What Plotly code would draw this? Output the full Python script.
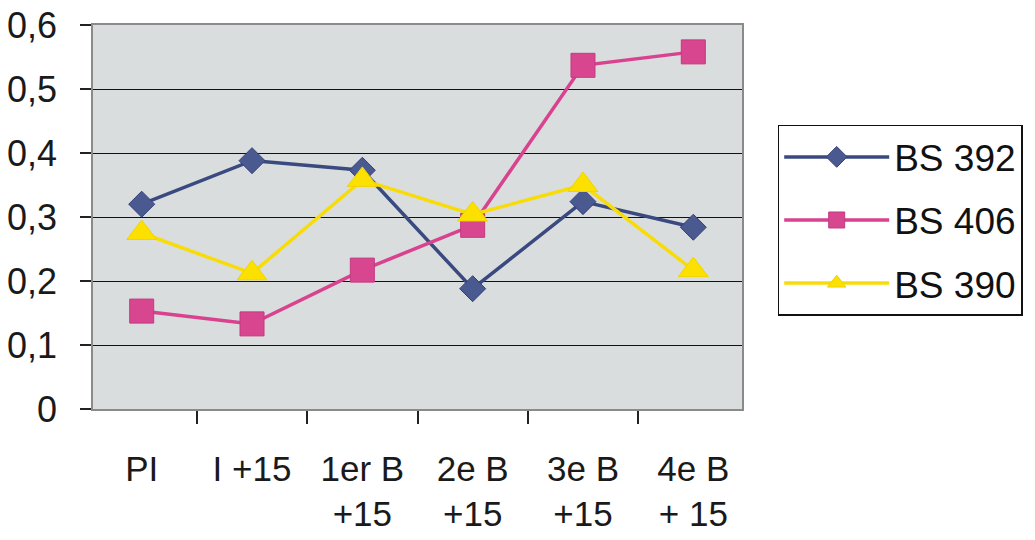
import plotly.graph_objects as go

categories = ["PI", "I +15", "1er B<br>+15", "2e B<br>+15", "3e B<br>+15", "4e B<br>+ 15"]
bs392 = [0.320, 0.388, 0.373, 0.188, 0.324, 0.284]
bs406 = [0.153, 0.133, 0.217, 0.287, 0.537, 0.558]
bs390 = [0.275, 0.212, 0.358, 0.304, 0.350, 0.217]
y_ticks = [0, 0.1, 0.2, 0.3, 0.4, 0.5, 0.6]

FONT = "Liberation Sans, Arial, sans-serif"

fig = go.Figure()
fig.add_trace(go.Scatter(
    x=categories, y=bs392, name="BS 392", mode="lines+markers", legendgroup="a",
    line=dict(color="#3a4a80", width=3.5),
    marker=dict(symbol="diamond", size=20, color="#4a5a90",
                line=dict(color="#34427a", width=1))))
fig.add_trace(go.Scatter(
    x=categories, y=bs406, name="BS 406", mode="lines+markers", legendgroup="b",
    line=dict(color="#d8428e", width=3.5),
    marker=dict(symbol="square", size=24, color="#d8468f",
                line=dict(color="#c23a80", width=1))))
fig.add_trace(go.Scatter(
    x=categories, y=bs390, name="BS 390", mode="lines+markers", legendgroup="c",
    line=dict(color="#f8dc0a", width=3.5),
    marker=dict(symbol="triangle-up", size=26, color="#fbe000",
                line=dict(color="#f0d400", width=1))))

fig.update_layout(
    width=1035, height=540,
    margin=dict(l=93, r=293, t=25, b=131, autoexpand=False),
    paper_bgcolor="white",
    plot_bgcolor="#dadddd",
    separators=", ",
    font=dict(family=FONT, size=35, color="#1a1a1a"),
    showlegend=True,
    legend=dict(
        x=1.055, y=0.74, xanchor="left", yanchor="top",
        bgcolor="white", bordercolor="#111111", borderwidth=1.5,
        font=dict(family=FONT, size=37, color="#111111"),
        itemwidth=105, tracegroupgap=12,
    ),
)
fig.update_xaxes(
    type="category", tickson="boundaries", automargin=False,
    ticks="outside", ticklen=13, tickcolor="#222222", tickwidth=1.5,
    showline=True, linecolor="#8a8a8a", linewidth=1.5, mirror=True,
    showgrid=False, tickfont=dict(size=35), ticklabelstandoff=28,
    ticklabeloverflow="allow",
)
fig.update_yaxes(
    range=[0, 0.6], tickvals=y_ticks, automargin=False,
    ticks="outside", ticklen=11, tickcolor="#222222", tickwidth=1.5,
    showgrid=True, gridcolor="#111111", gridwidth=1.2,
    zeroline=True, zerolinecolor="#111111", zerolinewidth=2,
    showline=True, linecolor="#8a8a8a", linewidth=1.5, mirror=True,
    tickfont=dict(size=36), ticklabelstandoff=16,
    ticklabeloverflow="allow",
)

fig.write_html("out.html", config={"displayModeBar": False},
               post_script="document.body.style.margin='0';")
